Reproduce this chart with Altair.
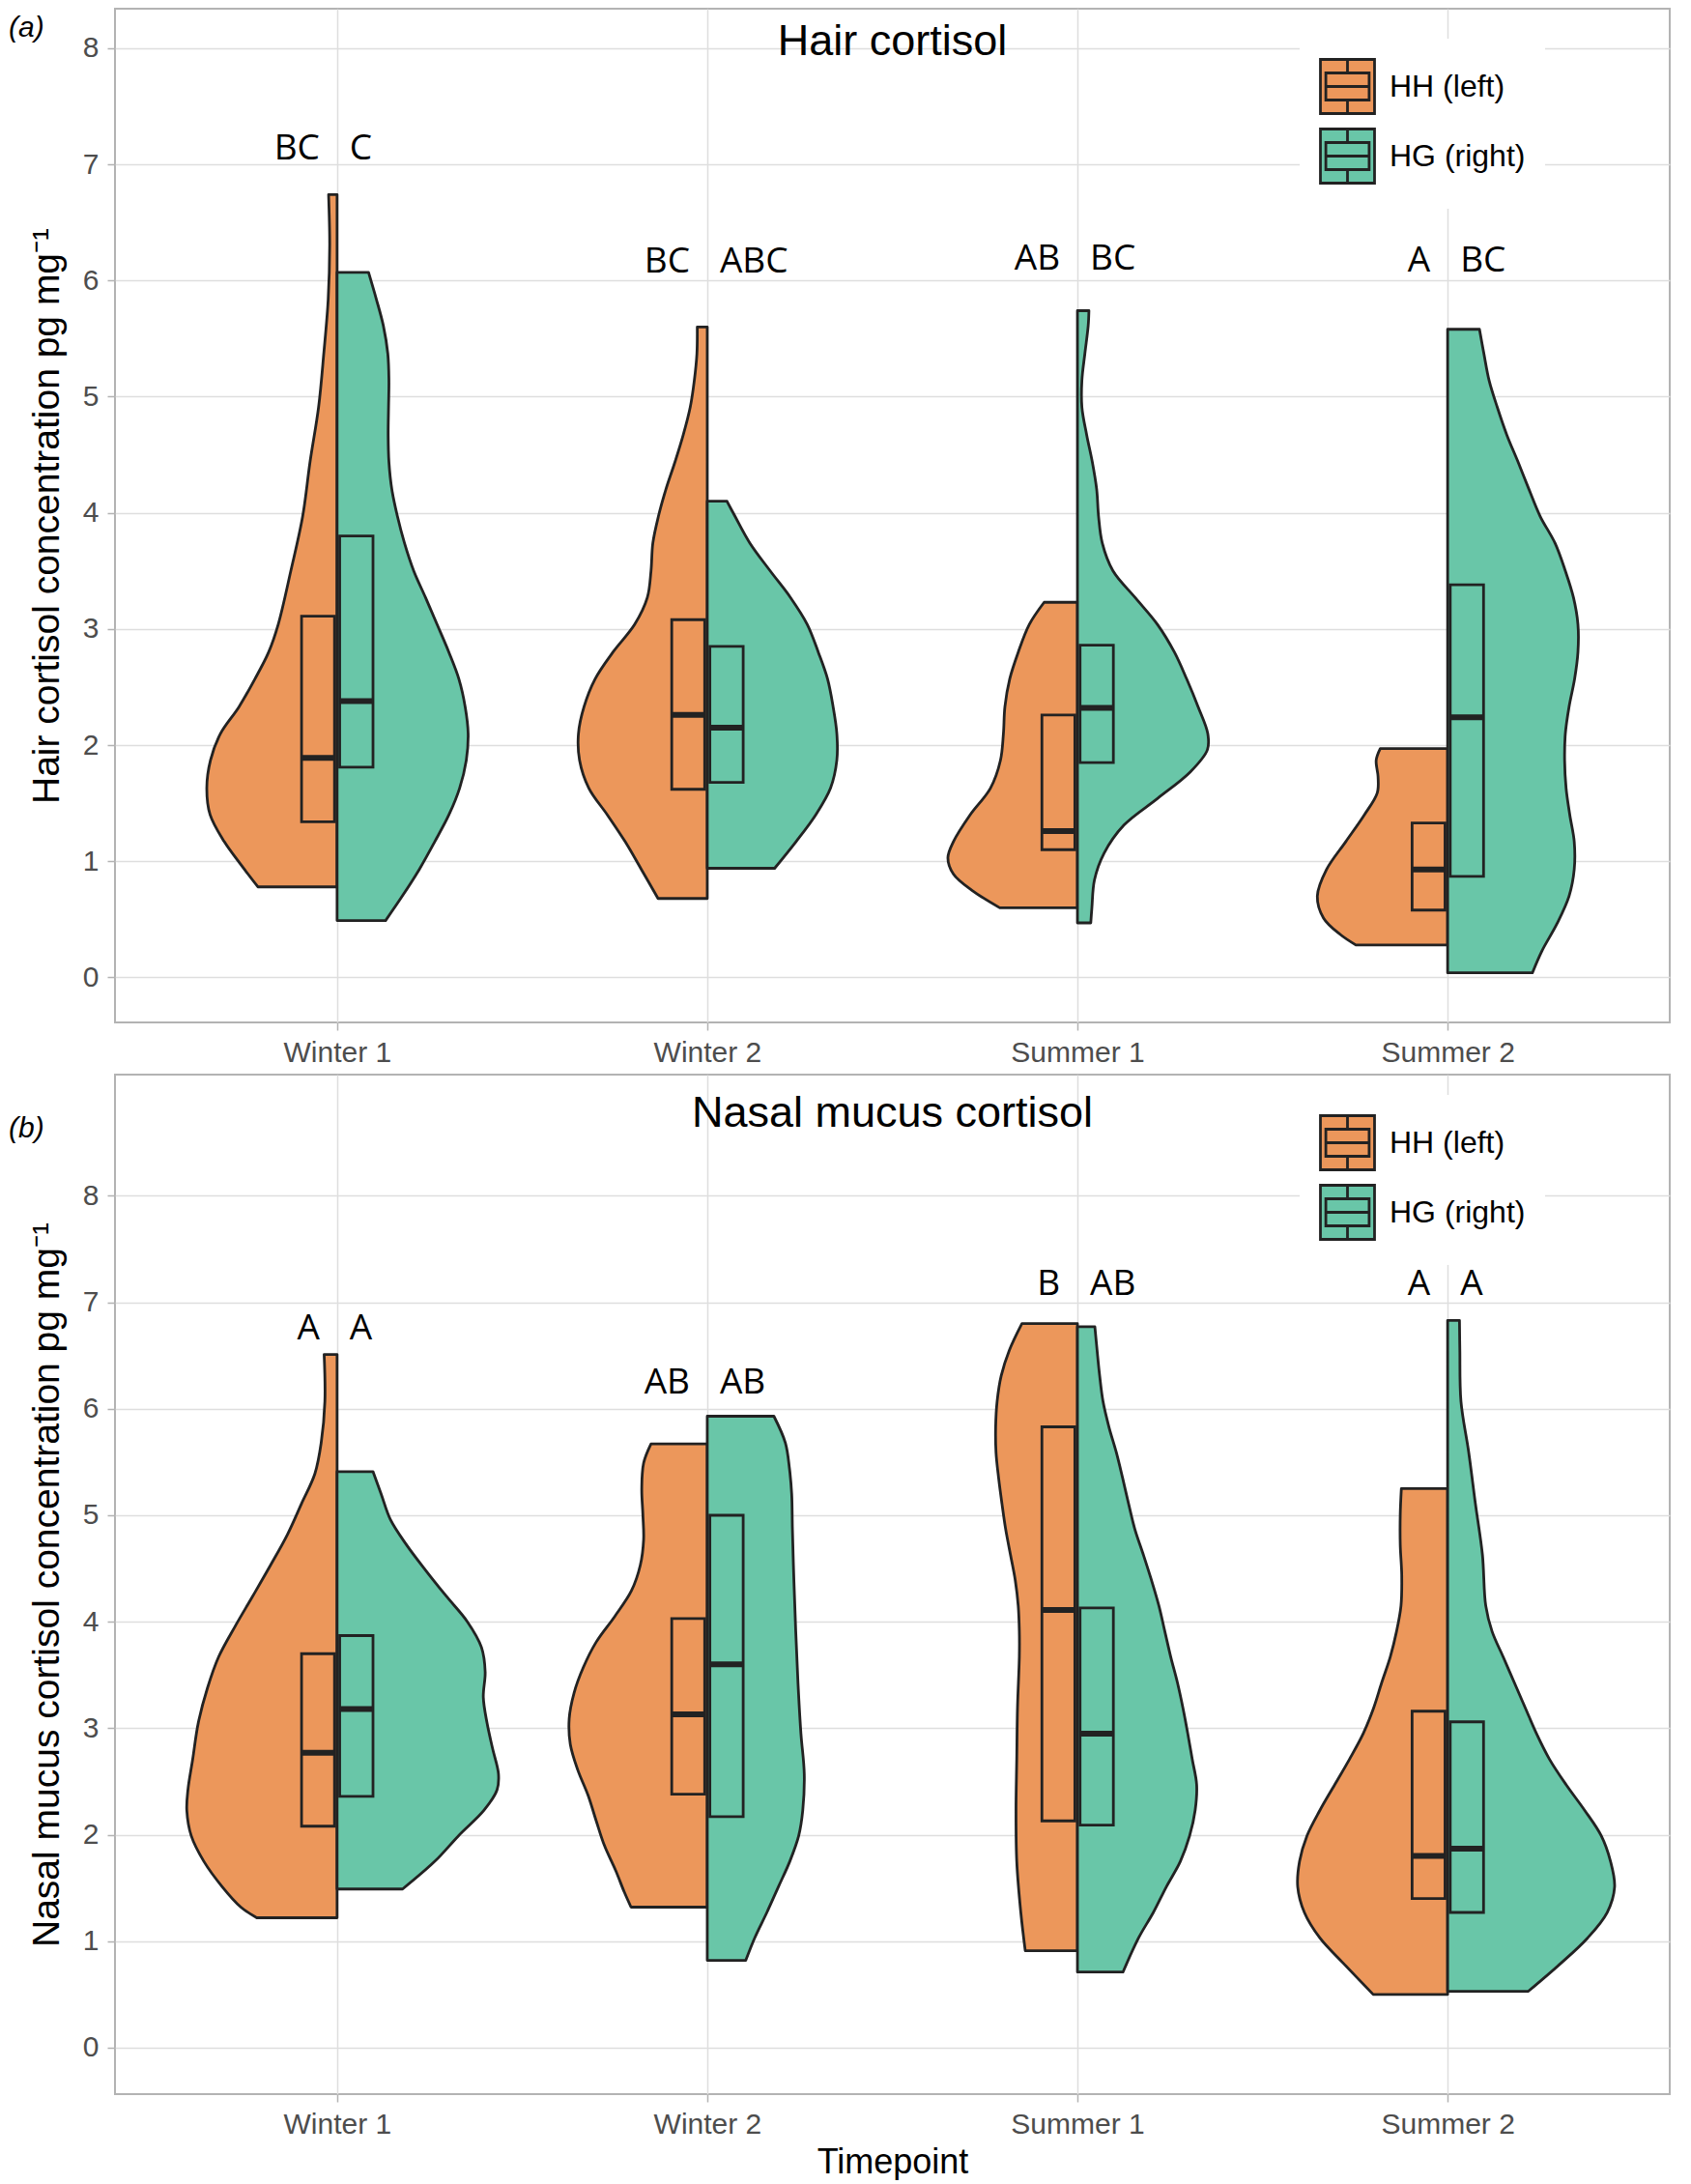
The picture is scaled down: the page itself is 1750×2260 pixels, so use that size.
import altair as alt
import pandas as pd

TIMEPOINTS = ["Winter 1", "Winter 2", "Summer 1", "Summer 2"]
GROUPS = ["HH", "HG"]
ORANGE = "#EC975B"
GREEN = "#69C6A8"
INK = "#222222"

# ---------------- (a) Hair cortisol: violin outlines (value, half-width in category units)
HAIR_W1_HH_Y = [6.74, 6.31, 5.84, 5.37, 4.91, 4.44, 3.97, 3.50, 3.04, 2.80, 2.57, 2.33, 2.10, 1.87, 1.63, 1.40, 1.17, 0.98, 0.78]
HAIR_W1_HH_W = [0.023, 0.020, 0.024, 0.036, 0.050, 0.073, 0.093, 0.125, 0.159, 0.185, 0.222, 0.265, 0.315, 0.342, 0.352, 0.343, 0.305, 0.262, 0.214]
HAIR_W1_HG_Y = [6.07, 5.84, 5.61, 5.37, 5.14, 4.91, 4.67, 4.44, 4.20, 3.97, 3.74, 3.50, 3.27, 3.04, 2.80, 2.57, 2.33, 2.10, 1.87, 1.63, 1.40, 1.17, 0.93, 0.70, 0.49]
HAIR_W1_HG_W = [0.085, 0.106, 0.125, 0.137, 0.140, 0.139, 0.138, 0.140, 0.148, 0.163, 0.182, 0.207, 0.239, 0.270, 0.302, 0.329, 0.346, 0.354, 0.349, 0.331, 0.302, 0.264, 0.222, 0.176, 0.131]
HAIR_W2_HH_Y = [5.60, 5.37, 5.14, 4.91, 4.67, 4.44, 4.20, 3.97, 3.74, 3.50, 3.27, 3.04, 2.80, 2.57, 2.33, 2.10, 1.87, 1.63, 1.40, 1.17, 0.93, 0.68]
HAIR_W2_HH_W = [0.027, 0.028, 0.035, 0.046, 0.065, 0.087, 0.112, 0.132, 0.147, 0.152, 0.162, 0.196, 0.255, 0.303, 0.333, 0.348, 0.345, 0.320, 0.270, 0.222, 0.178, 0.133]
HAIR_W2_HG_Y = [4.10, 3.97, 3.74, 3.50, 3.27, 3.04, 2.80, 2.57, 2.33, 2.10, 1.87, 1.63, 1.40, 1.17, 0.94]
HAIR_W2_HG_W = [0.053, 0.075, 0.115, 0.170, 0.225, 0.270, 0.300, 0.325, 0.340, 0.350, 0.350, 0.333, 0.293, 0.240, 0.182]
HAIR_S1_HH_Y = [3.23, 3.04, 2.80, 2.57, 2.33, 2.10, 1.87, 1.63, 1.40, 1.17, 1.03, 0.89, 0.75, 0.60]
HAIR_S1_HH_W = [0.090, 0.130, 0.160, 0.183, 0.196, 0.200, 0.208, 0.235, 0.290, 0.335, 0.350, 0.335, 0.285, 0.210]
HAIR_S1_HG_Y = [5.74, 5.61, 5.37, 5.14, 4.91, 4.67, 4.44, 4.20, 3.97, 3.74, 3.50, 3.27, 3.04, 2.80, 2.57, 2.33, 2.10, 1.96, 1.77, 1.54, 1.31, 1.07, 0.84, 0.60, 0.47]
HAIR_S1_HG_W = [0.031, 0.029, 0.020, 0.012, 0.012, 0.025, 0.040, 0.052, 0.057, 0.067, 0.096, 0.156, 0.216, 0.262, 0.295, 0.326, 0.352, 0.351, 0.305, 0.216, 0.125, 0.072, 0.046, 0.039, 0.036]
HAIR_S2_HH_Y = [1.97, 1.87, 1.73, 1.59, 1.40, 1.17, 0.93, 0.70, 0.51, 0.37, 0.28]
HAIR_S2_HH_W = [0.182, 0.193, 0.188, 0.190, 0.225, 0.275, 0.327, 0.352, 0.335, 0.290, 0.248]
HAIR_S2_HG_Y = [5.58, 5.37, 5.14, 4.91, 4.67, 4.44, 4.20, 3.97, 3.74, 3.50, 3.27, 3.04, 2.80, 2.57, 2.33, 2.10, 1.87, 1.63, 1.40, 1.17, 0.93, 0.70, 0.46, 0.23, 0.04]
HAIR_S2_HG_W = [0.086, 0.098, 0.112, 0.134, 0.160, 0.190, 0.220, 0.250, 0.290, 0.318, 0.340, 0.352, 0.352, 0.343, 0.328, 0.318, 0.316, 0.320, 0.330, 0.342, 0.342, 0.328, 0.295, 0.255, 0.229]

# (a) box statistics per timepoint
HAIR_HH_Q1 = [1.34, 1.62, 1.10, 0.58]
HAIR_HH_MED = [1.89, 2.26, 1.26, 0.93]
HAIR_HH_Q3 = [3.11, 3.08, 2.26, 1.33]
HAIR_HG_Q1 = [1.81, 1.68, 1.85, 0.87]
HAIR_HG_MED = [2.38, 2.15, 2.32, 2.24]
HAIR_HG_Q3 = [3.80, 2.85, 2.86, 3.38]
# (a) significance letters and their baseline heights
HAIR_HH_LETTERS = ["BC", "BC", "AB", "A"]
HAIR_HG_LETTERS = ["C", "ABC", "BC", "BC"]
HAIR_LETTER_Y = [7.04, 6.07, 6.09, 6.08]

# ---------------- (b) Nasal mucus cortisol
NASAL_W1_HH_Y = [6.51, 6.07, 5.68, 5.39, 5.11, 4.82, 4.53, 4.24, 3.96, 3.67, 3.38, 3.05, 2.71, 2.42, 2.23, 1.99, 1.75, 1.51, 1.32, 1.22]
NASAL_W1_HH_W = [0.035, 0.033, 0.043, 0.060, 0.096, 0.134, 0.180, 0.228, 0.275, 0.320, 0.350, 0.375, 0.390, 0.403, 0.406, 0.394, 0.360, 0.310, 0.260, 0.217]
NASAL_W1_HG_Y = [5.41, 5.20, 4.96, 4.72, 4.48, 4.24, 4.00, 3.76, 3.53, 3.29, 3.05, 2.81, 2.57, 2.42, 2.23, 1.99, 1.75, 1.49]
NASAL_W1_HG_W = [0.097, 0.119, 0.144, 0.188, 0.240, 0.295, 0.352, 0.390, 0.400, 0.395, 0.405, 0.420, 0.436, 0.432, 0.397, 0.328, 0.264, 0.177]
NASAL_W2_HH_Y = [5.67, 5.49, 5.25, 5.01, 4.77, 4.53, 4.29, 4.05, 3.81, 3.57, 3.33, 3.09, 2.85, 2.61, 2.37, 2.13, 1.90, 1.66, 1.46, 1.32]
NASAL_W2_HH_W = [0.152, 0.172, 0.177, 0.174, 0.172, 0.181, 0.205, 0.250, 0.300, 0.335, 0.360, 0.373, 0.370, 0.350, 0.322, 0.300, 0.278, 0.247, 0.224, 0.206]
NASAL_W2_HG_Y = [5.93, 5.68, 5.44, 5.20, 4.87, 4.39, 3.91, 3.43, 2.95, 2.57, 2.23, 1.99, 1.75, 1.51, 1.27, 1.03, 0.82]
NASAL_W2_HG_W = [0.180, 0.211, 0.222, 0.228, 0.230, 0.234, 0.239, 0.245, 0.253, 0.262, 0.258, 0.247, 0.223, 0.192, 0.161, 0.128, 0.104]
NASAL_S1_HH_Y = [6.80, 6.55, 6.31, 6.07, 5.83, 5.59, 5.35, 5.11, 4.87, 4.63, 4.39, 4.15, 3.91, 3.67, 3.19, 2.71, 2.23, 1.75, 1.27, 0.91]
NASAL_S1_HH_W = [0.150, 0.184, 0.206, 0.217, 0.221, 0.220, 0.213, 0.204, 0.194, 0.181, 0.168, 0.160, 0.157, 0.157, 0.162, 0.164, 0.166, 0.164, 0.153, 0.141]
NASAL_S1_HG_Y = [6.77, 6.55, 6.31, 6.07, 5.83, 5.59, 5.35, 5.11, 4.87, 4.63, 4.39, 4.15, 3.91, 3.67, 3.43, 3.19, 2.95, 2.71, 2.47, 2.23, 1.99, 1.75, 1.51, 1.27, 1.03, 0.71]
NASAL_S1_HG_W = [0.047, 0.053, 0.060, 0.069, 0.085, 0.105, 0.122, 0.138, 0.155, 0.178, 0.200, 0.220, 0.236, 0.252, 0.270, 0.285, 0.298, 0.310, 0.322, 0.318, 0.303, 0.278, 0.240, 0.205, 0.165, 0.123]
NASAL_S2_HH_Y = [5.25, 5.01, 4.72, 4.44, 4.15, 3.91, 3.67, 3.43, 3.19, 2.95, 2.71, 2.47, 2.23, 1.99, 1.75, 1.51, 1.27, 1.03, 0.79, 0.50]
NASAL_S2_HH_W = [0.125, 0.128, 0.128, 0.124, 0.126, 0.138, 0.155, 0.178, 0.200, 0.228, 0.265, 0.305, 0.345, 0.380, 0.400, 0.405, 0.387, 0.345, 0.281, 0.201]
NASAL_S2_HG_Y = [6.83, 6.55, 6.07, 5.59, 5.11, 4.63, 4.15, 3.91, 3.67, 3.43, 3.19, 2.95, 2.71, 2.47, 2.23, 1.99, 1.75, 1.51, 1.27, 1.03, 0.79, 0.53]
NASAL_S2_HG_W = [0.032, 0.033, 0.036, 0.057, 0.075, 0.094, 0.103, 0.120, 0.150, 0.180, 0.210, 0.240, 0.275, 0.320, 0.370, 0.415, 0.440, 0.451, 0.431, 0.378, 0.305, 0.218]

NASAL_HH_Q1 = [2.08, 2.38, 2.13, 1.40]
NASAL_HH_MED = [2.77, 3.13, 4.11, 1.80]
NASAL_HH_Q3 = [3.70, 4.03, 5.83, 3.16]
NASAL_HG_Q1 = [2.36, 2.17, 2.09, 1.27]
NASAL_HG_MED = [3.18, 3.60, 2.95, 1.87]
NASAL_HG_Q3 = [3.87, 5.00, 4.13, 3.06]
NASAL_HH_LETTERS = ["A", "AB", "B", "A"]
NASAL_HG_LETTERS = ["A", "AB", "AB", "A"]
NASAL_LETTER_Y = [6.65, 6.14, 7.07, 7.07]

HAIR_OUTLINES = {
    ("Winter 1", "HH"): (HAIR_W1_HH_Y, HAIR_W1_HH_W), ("Winter 1", "HG"): (HAIR_W1_HG_Y, HAIR_W1_HG_W),
    ("Winter 2", "HH"): (HAIR_W2_HH_Y, HAIR_W2_HH_W), ("Winter 2", "HG"): (HAIR_W2_HG_Y, HAIR_W2_HG_W),
    ("Summer 1", "HH"): (HAIR_S1_HH_Y, HAIR_S1_HH_W), ("Summer 1", "HG"): (HAIR_S1_HG_Y, HAIR_S1_HG_W),
    ("Summer 2", "HH"): (HAIR_S2_HH_Y, HAIR_S2_HH_W), ("Summer 2", "HG"): (HAIR_S2_HG_Y, HAIR_S2_HG_W),
}
NASAL_OUTLINES = {
    ("Winter 1", "HH"): (NASAL_W1_HH_Y, NASAL_W1_HH_W), ("Winter 1", "HG"): (NASAL_W1_HG_Y, NASAL_W1_HG_W),
    ("Winter 2", "HH"): (NASAL_W2_HH_Y, NASAL_W2_HH_W), ("Winter 2", "HG"): (NASAL_W2_HG_Y, NASAL_W2_HG_W),
    ("Summer 1", "HH"): (NASAL_S1_HH_Y, NASAL_S1_HH_W), ("Summer 1", "HG"): (NASAL_S1_HG_Y, NASAL_S1_HG_W),
    ("Summer 2", "HH"): (NASAL_S2_HH_Y, NASAL_S2_HH_W), ("Summer 2", "HG"): (NASAL_S2_HG_Y, NASAL_S2_HG_W),
}

BOX_IN = 0.007   # gap between box and centre line
BOX_OUT = 0.096  # outer edge of box
LABEL_FONT = "Liberation Sans"
STROKE_W = 2.8


def violin_frame(outlines):
    rows = []
    for ti, tp in enumerate(TIMEPOINTS):
        pos = ti + 1
        for g in GROUPS:
            ys, ws = outlines[(tp, g)]
            for y, w in sorted(zip(ys, ws)):
                x0, x1 = (pos - w, pos) if g == "HH" else (pos, pos + w)
                rows.append({"key": tp + "|" + g, "group": g, "value": y, "x0": x0, "x1": x1})
    return pd.DataFrame(rows)


def box_frame(stats):
    rows = []
    for g in GROUPS:
        q1s, meds, q3s = stats[g]
        for ti, tp in enumerate(TIMEPOINTS):
            pos = ti + 1
            if g == "HH":
                b0, b1 = pos - BOX_OUT, pos - BOX_IN
            else:
                b0, b1 = pos + BOX_IN, pos + BOX_OUT + 0.001
            rows.append({"group": g, "tp": tp, "b0": b0, "b1": b1, "q1": q1s[ti], "med": meds[ti], "q3": q3s[ti]})
    return pd.DataFrame(rows)


def letter_frame(hh, hg, ys):
    rows = []
    for ti in range(len(TIMEPOINTS)):
        rows.append({"pos": ti + 1, "side": "HH", "label": hh[ti], "y": ys[ti]})
        rows.append({"pos": ti + 1, "side": "HG", "label": hg[ti], "y": ys[ti]})
    return pd.DataFrame(rows)


W = 1609
SYMBOL = ("M-1,-1H1V1H-1Z M-0.8,-0.5H0.8V0.5H-0.8Z M0,-1V-0.5 M0,0.5V1 M-0.8,0H0.8")


def panel(vdf, bdf, ldf, ydomain, height, ytitle, title, title_y, tag, tag_y, legend_y, xtitle):
    xscale = alt.Scale(domain=[0.4, 4.6], nice=False, zero=False)
    yscale = alt.Scale(domain=ydomain, nice=False, zero=False)
    xaxis_kw = dict(values=[1, 2, 3, 4],
                    labelExpr="['', 'Winter 1', 'Winter 2', 'Summer 1', 'Summer 2'][datum.value]",
                    labelPadding=8, grid=True)
    if xtitle:
        xaxis = alt.Axis(title=xtitle, titleX=W / 2, titleY=81, titleBaseline="alphabetic",
                         titleFontSize=36, **xaxis_kw)
    else:
        xaxis = alt.Axis(title=None, **xaxis_kw)
    yaxis = alt.Axis(values=list(range(0, 9)), title=ytitle, titleX=-59, titleY=height / 2,
                     titleAngle=270, titleAlign="center", titleBaseline="alphabetic",
                     titleFontSize=39, labelPadding=9, grid=True)
    fill_scale = alt.Scale(domain=GROUPS, range=[ORANGE, GREEN])

    violins = alt.Chart(vdf).mark_area(
        orient="horizontal", interpolate="catmull-rom", stroke=INK, strokeWidth=STROKE_W,
        opacity=1, strokeJoin="round"
    ).encode(
        y=alt.Y("value:Q", scale=yscale, axis=yaxis),
        x=alt.X("x0:Q", scale=xscale, axis=xaxis, stack=None),
        x2="x1:Q",
        fill=alt.Fill("group:N", scale=fill_scale, legend=alt.Legend(
            title=None, orient="none", legendX=1226, legendY=legend_y, fillColor="white",
            padding=20, symbolType=SYMBOL, symbolSize=3136, symbolStrokeColor=INK,
            symbolStrokeWidth=2.8, symbolOpacity=1, rowPadding=3, labelOffset=14,
            labelFontSize=32, labelFont=LABEL_FONT, labelColor="black",
            labelExpr="datum.label == 'HH' ? 'HH (left)' : 'HG (right)'")),
        detail="key:N",
    )

    boxes = alt.Chart(bdf).mark_rect(stroke=INK, strokeWidth=STROKE_W, opacity=1).encode(
        x=alt.X("b0:Q", scale=xscale, axis=xaxis),
        x2="b1:Q",
        y=alt.Y("q1:Q", scale=yscale, axis=yaxis),
        y2="q3:Q",
        fill=alt.Fill("group:N", scale=fill_scale, legend=None),
    )
    medians = alt.Chart(bdf).mark_rule(color=INK, strokeWidth=6).encode(
        x=alt.X("b0:Q", scale=xscale, axis=xaxis),
        x2="b1:Q",
        y=alt.Y("med:Q", scale=yscale, axis=yaxis),
    )
    left_letters = alt.Chart(ldf).transform_filter(alt.datum.side == "HH").mark_text(
        align="right", baseline="alphabetic", dx=-18, font="Open Sans", fontSize=37, color="black"
    ).encode(
        x=alt.X("pos:Q", scale=xscale, axis=xaxis),
        y=alt.Y("y:Q", scale=yscale, axis=yaxis),
        text="label:N",
    )
    right_letters = alt.Chart(ldf).transform_filter(alt.datum.side == "HG").mark_text(
        align="left", baseline="alphabetic", dx=13, font="Open Sans", fontSize=37, color="black"
    ).encode(
        x=alt.X("pos:Q", scale=xscale, axis=xaxis),
        y=alt.Y("y:Q", scale=yscale, axis=yaxis),
        text="label:N",
    )
    title_mark = alt.Chart(pd.DataFrame({"t": [title]})).mark_text(
        align="center", baseline="middle", font=LABEL_FONT, fontSize=45, color="black"
    ).encode(x=alt.value(W / 2), y=alt.value(title_y), text="t:N")
    tag_mark = alt.Chart(pd.DataFrame({"t": [tag]})).mark_text(
        align="left", baseline="middle", font=LABEL_FONT, fontSize=30, fontStyle="italic", color="black"
    ).encode(x=alt.value(-110), y=alt.value(tag_y), text="t:N")

    return alt.layer(violins, boxes, medians, left_letters, right_letters, title_mark, tag_mark).properties(
        width=W, height=height
    )


hair = panel(
    violin_frame(HAIR_OUTLINES),
    box_frame({"HH": (HAIR_HH_Q1, HAIR_HH_MED, HAIR_HH_Q3), "HG": (HAIR_HG_Q1, HAIR_HG_MED, HAIR_HG_Q3)}),
    letter_frame(HAIR_HH_LETTERS, HAIR_HG_LETTERS, HAIR_LETTER_Y),
    [-0.387, 8.34], 1049, "Hair cortisol concentration pg mg\u207b\u00b9", "Hair cortisol", 34,
    "(a)", 20, 31, None,
)
nasal = panel(
    violin_frame(NASAL_OUTLINES),
    box_frame({"HH": (NASAL_HH_Q1, NASAL_HH_MED, NASAL_HH_Q3), "HG": (NASAL_HG_Q1, NASAL_HG_MED, NASAL_HG_Q3)}),
    letter_frame(NASAL_HH_LETTERS, NASAL_HG_LETTERS, NASAL_LETTER_Y),
    [-0.436, 9.138], 1055, "Nasal mucus cortisol concentration pg mg\u207b\u00b9", "Nasal mucus cortisol", 40,
    "(b)", 56, 21, "Timepoint",
)

chart = alt.vconcat(hair, nasal, spacing=54, bounds="flush").resolve_scale(
    y="independent", fill="independent"
).resolve_legend(fill="independent").configure(
    padding=0, background="white"
).configure_view(
    stroke="#B3B3B3", strokeWidth=2
).configure_axis(
    labelFont=LABEL_FONT, labelFontSize=30, labelColor="#4D4D4D",
    tickColor="#B3B3B3", tickSize=8, tickWidth=1.5,
    gridColor="#DEDEDE", gridWidth=1.5, domain=False,
    titleFont=LABEL_FONT, titleFontWeight="normal", titleColor="black",
)

chart.save("out.html", embed_options={"renderer": "svg", "actions": False})
